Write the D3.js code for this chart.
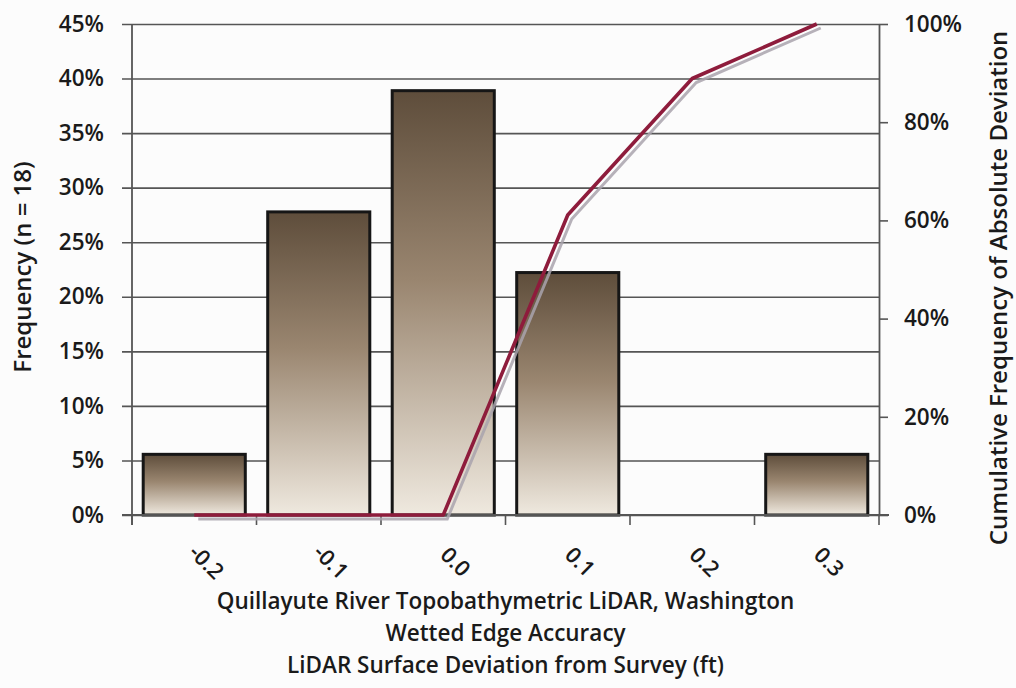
<!DOCTYPE html>
<html>
<head>
<meta charset="utf-8">
<script src="https://cdn.jsdelivr.net/npm/d3@7"></script>
<style>
  html, body { margin: 0; padding: 0; background: #fcfcfc; }
  svg { display: block; }
  text { font-family: "Open Sans", "Noto Sans", sans-serif; fill: #1a1a1a; }
</style>
</head>
<body>
<svg id="chart" width="1016" height="688"></svg>
<script>
// Deviation bins (ft)
const categories = ["-0.2", "-0.1", "0.0", "0.1", "0.2", "0.3"];
// Frequency per bin, percent of 18 points
const frequency = [5.56, 27.78, 38.89, 22.22, 0, 5.56];
// Cumulative frequency of absolute deviation, percent
const cumulative = [0, 0, 0, 61.1, 88.9, 100];
const leftTicks = [0, 5, 10, 15, 20, 25, 30, 35, 40, 45];
const rightTicks = [0, 20, 40, 60, 80, 100];
const xTitleLines = [
  "Quillayute River Topobathymetric LiDAR, Washington",
  "Wetted Edge Accuracy",
  "LiDAR Surface Deviation from Survey (ft)"
];

const svg = d3.select("#chart");
const m = { left: 132, right: 879, top: 24, bottom: 515 };

const x = d3.scaleBand().domain(categories).range([m.left, m.right]).paddingInner(0.18).paddingOuter(0.09);
const xb = d3.scaleBand().domain(categories).range([m.left, m.right]);
const yL = d3.scaleLinear().domain([0, 45]).range([m.bottom, m.top]);
const yR = d3.scaleLinear().domain([0, 100]).range([m.bottom, m.top]);

// bar gradient, dark at top fading to pale beige
const defs = svg.append("defs");
const grad = defs.append("linearGradient").attr("id", "barFill")
  .attr("x1", 0).attr("y1", 0).attr("x2", 0).attr("y2", 1);
grad.append("stop").attr("offset", "0%").attr("stop-color", "#5e4d3b");
grad.append("stop").attr("offset", "45%").attr("stop-color", "#9a8670");
grad.append("stop").attr("offset", "100%").attr("stop-color", "#efe9df");

// horizontal gridlines with outward ticks on the left
svg.append("g")
  .attr("transform", `translate(${m.left},0)`)
  .call(d3.axisLeft(yL).tickValues(leftTicks).tickFormat(d => d + "%")
    .tickSizeInner(-(m.right - m.left)).tickSizeOuter(0).tickPadding(28))
  .call(g => g.select(".domain").remove())
  .call(g => g.selectAll(".tick line").attr("stroke", "#555").attr("stroke-width", 1.6)
    .attr("x1", -10))
  .call(g => g.selectAll(".tick text").attr("font-size", 22.5).attr("font-weight", 600)
    .attr("fill", "#1a1a1a"));

// left axis line
svg.append("line").attr("x1", m.left).attr("x2", m.left)
  .attr("y1", m.top).attr("y2", m.bottom + 10)
  .attr("stroke", "#555").attr("stroke-width", 1.8);

// bars
svg.append("g").selectAll("rect")
  .data(categories.map((c, i) => ({ c, v: frequency[i] })).filter(d => d.v > 0))
  .join("rect")
  .attr("x", d => x(d.c))
  .attr("width", x.bandwidth())
  .attr("y", d => yL(d.v))
  .attr("height", d => yL(0) - yL(d.v))
  .attr("fill", "url(#barFill)")
  .attr("stroke", "#161616")
  .attr("stroke-width", 3);

// bottom axis with ticks at bin boundaries
const xAxisG = svg.append("g").attr("transform", `translate(0,${m.bottom})`);
xAxisG.append("line").attr("x1", m.left - 10).attr("x2", m.right + 10)
  .attr("stroke", "#555").attr("stroke-width", 1.8);
xAxisG.selectAll("line.bt")
  .data(categories.concat(["end"]))
  .join("line").attr("class", "bt")
  .attr("x1", (d, i) => i < categories.length ? xb(d) : m.right)
  .attr("x2", (d, i) => i < categories.length ? xb(d) : m.right)
  .attr("y1", 0).attr("y2", 10)
  .attr("stroke", "#555").attr("stroke-width", 1.6);
xAxisG.selectAll("text")
  .data(categories)
  .join("text")
  .attr("transform", d => `translate(${xb(d) + xb.bandwidth() / 2 + 11},${48}) rotate(45)`)
  .attr("text-anchor", "middle")
  .attr("dominant-baseline", "middle")
  .attr("font-size", 22).attr("font-weight", 600)
  .text(d => d);

// right axis
svg.append("g")
  .attr("transform", `translate(${m.right},0)`)
  .call(d3.axisRight(yR).tickValues(rightTicks).tickFormat(d => d + "%")
    .tickSizeInner(9).tickSizeOuter(0).tickPadding(16))
  .call(g => g.select(".domain").attr("stroke", "#555").attr("stroke-width", 1.8))
  .call(g => g.selectAll(".tick line").attr("stroke", "#555").attr("stroke-width", 1.6))
  .call(g => g.selectAll(".tick text").attr("font-size", 22.5).attr("font-weight", 600)
    .attr("fill", "#1a1a1a"));

// cumulative line with soft grey shadow
const line = d3.line()
  .x((d, i) => xb(categories[i]) + xb.bandwidth() / 2)
  .y(d => yR(d));
svg.append("path").datum(cumulative)
  .attr("d", line)
  .attr("transform", "translate(4,4)")
  .attr("fill", "none")
  .attr("stroke", "#a9a3ad")
  .attr("stroke-width", 3)
  .attr("opacity", 0.85);
svg.append("path").datum(cumulative)
  .attr("d", line)
  .attr("fill", "none")
  .attr("stroke", "#8e1c3c")
  .attr("stroke-width", 3.6)
  .attr("stroke-linejoin", "round");

// axis titles
svg.append("text")
  .attr("transform", `translate(31,267) rotate(-90)`)
  .attr("text-anchor", "middle")
  .attr("font-size", 24).attr("font-weight", 600)
  .text("Frequency (n = 18)");

svg.append("text")
  .attr("transform", `translate(1007,288) rotate(-90)`)
  .attr("text-anchor", "middle")
  .attr("font-size", 24).attr("font-weight", 600)
  .text("Cumulative Frequency of Absolute Deviation");

svg.append("g").selectAll("text")
  .data(xTitleLines)
  .join("text")
  .attr("x", (m.left + m.right) / 2)
  .attr("y", (d, i) => 609 + i * 32)
  .attr("text-anchor", "middle")
  .attr("font-size", 22.5).attr("font-weight", 600)
  .text(d => d);
</script>
</body>
</html>
